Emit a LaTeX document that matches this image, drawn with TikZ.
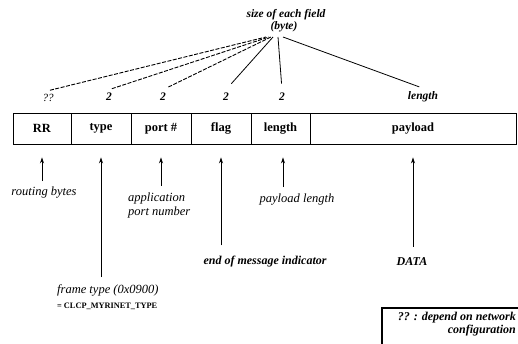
\documentclass[tikz,border=0pt]{standalone}
\usepackage{fontspec}
\setmainfont{Liberation Serif}
\usetikzlibrary{arrows.meta}
\begin{document}
\begin{tikzpicture}[x=1pt,y=-1pt,
  field/.style={draw,line width=0.9pt,minimum height=31pt,inner sep=0pt,font=\fontsize{12.5}{14}\selectfont\bfseries},
  sz/.style={font=\fontsize{11.5}{13}\selectfont\bfseries\itshape},
  lbl/.style={font=\fontsize{12.5}{14}\selectfont\itshape,inner sep=1pt},
  blbl/.style={font=\fontsize{12}{14}\selectfont\bfseries\itshape,inner sep=1pt},
  arr/.style={line width=0.8pt,-{Stealth[length=6pt,width=4pt]}},
  dl/.style={line width=0.9pt,dash pattern=on 4pt off 1.5pt},
  sl/.style={line width=0.8pt}]
\useasboundingbox (0,0) rectangle (518,344);
% fields
\node[field,minimum width=58pt] (RR) at (42,128.5) {RR};
\node[field,minimum width=60pt] (TY) at (101,128.5) {type};
\node[field,minimum width=60pt] (PO) at (161,128.5) {port \#};
\node[field,minimum width=60pt] (FL) at (221,128.5) {flag};
\node[field,minimum width=59pt] (LE) at (280.5,128.5) {length};
\node[field,minimum width=206pt] (PA) at (413,128.5) {payload};
% header
\node[sz] (hd1) at (286,15) {size of each field};
\node[sz] (hd2) at (284,27) {(byte)};
\coordinate (c1) at (266,37);
\coordinate (c2) at (269,37);
\coordinate (c3) at (271,37);
\coordinate (c4) at (273,37);
\coordinate (c5) at (278,37);
\coordinate (c6) at (283,37);
% sizes
\node[font=\fontsize{11}{12}\selectfont\itshape] (s1) at (48,98) {??};
\node[sz] (s2) at (109,97) {2};
\node[sz] (s3) at (163,97) {2};
\node[sz] (s4) at (226,97) {2};
\node[sz] (s5) at (282,97) {2};
\node[sz] (s6) at (423,97) {length};
\draw[dl,shorten <=2pt] (s1.north) -- (c1);
\draw[dl,shorten <=3pt] (s2.north) -- (c2);
\draw[dl,shorten <=6pt] (s3.north) -- (c3);
\draw[sl,shorten <=8pt] (s4.north) -- (c4);
\draw[sl,shorten <=6pt] (s5.north) -- (c5);
\draw[sl,shorten <=4pt] (s6.north) -- (c6);
% bottom labels
\node[lbl] (rb) at (44,193) {routing bytes};
\node[lbl,anchor=north west,align=left] (app) at (127,192) {application\\port number};
\node[lbl] (pl) at (297,200) {payload length};
\node[blbl] (eom) at (265,262) {end of message indicator};
\node[blbl] (data) at (412,262) {DATA};
\node[lbl,anchor=west] (ft) at (56,290) {frame type (0x0900)};
\node[anchor=west,inner sep=1pt,font=\fontsize{8.3}{10}\selectfont\bfseries] (ct) at (56,306) {= CLCP\_MYRINET\_TYPE};
% arrows
\draw[arr,shorten <=5pt,shorten >=13pt] (rb.north -| RR.south) -- (RR.south);
\draw[arr,shorten <=6pt,shorten >=13pt] (ft.north -| TY.south) -- (TY.south);
\draw[arr,shorten <=6pt,shorten >=13pt] (app.north -| PO.south) -- (PO.south);
\draw[arr,shorten <=10pt,shorten >=13pt] (eom.north -| FL.south) -- (FL.south);
\draw[arr,shorten <=6pt,shorten >=13pt] ([xshift=2.5pt]pl.north -| LE.south) -- ([xshift=2.5pt]LE.south);
\draw[arr,shorten <=10pt,shorten >=13pt] (data.north -| PA.south) -- (PA.south);
% legend
\coordinate (lgA) at (382,346);
\coordinate (lgB) at (382,308);
\coordinate (lgC) at (520,308);
\draw[line width=1.2pt] (lgA) -- (lgB) -- (lgC);
\node[anchor=north east,align=right,inner sep=1pt,font=\fontsize{12}{13}\selectfont\bfseries\itshape] (lg) at (517,311) {?? : depend on network\\configuration};
\end{tikzpicture}
\end{document}
